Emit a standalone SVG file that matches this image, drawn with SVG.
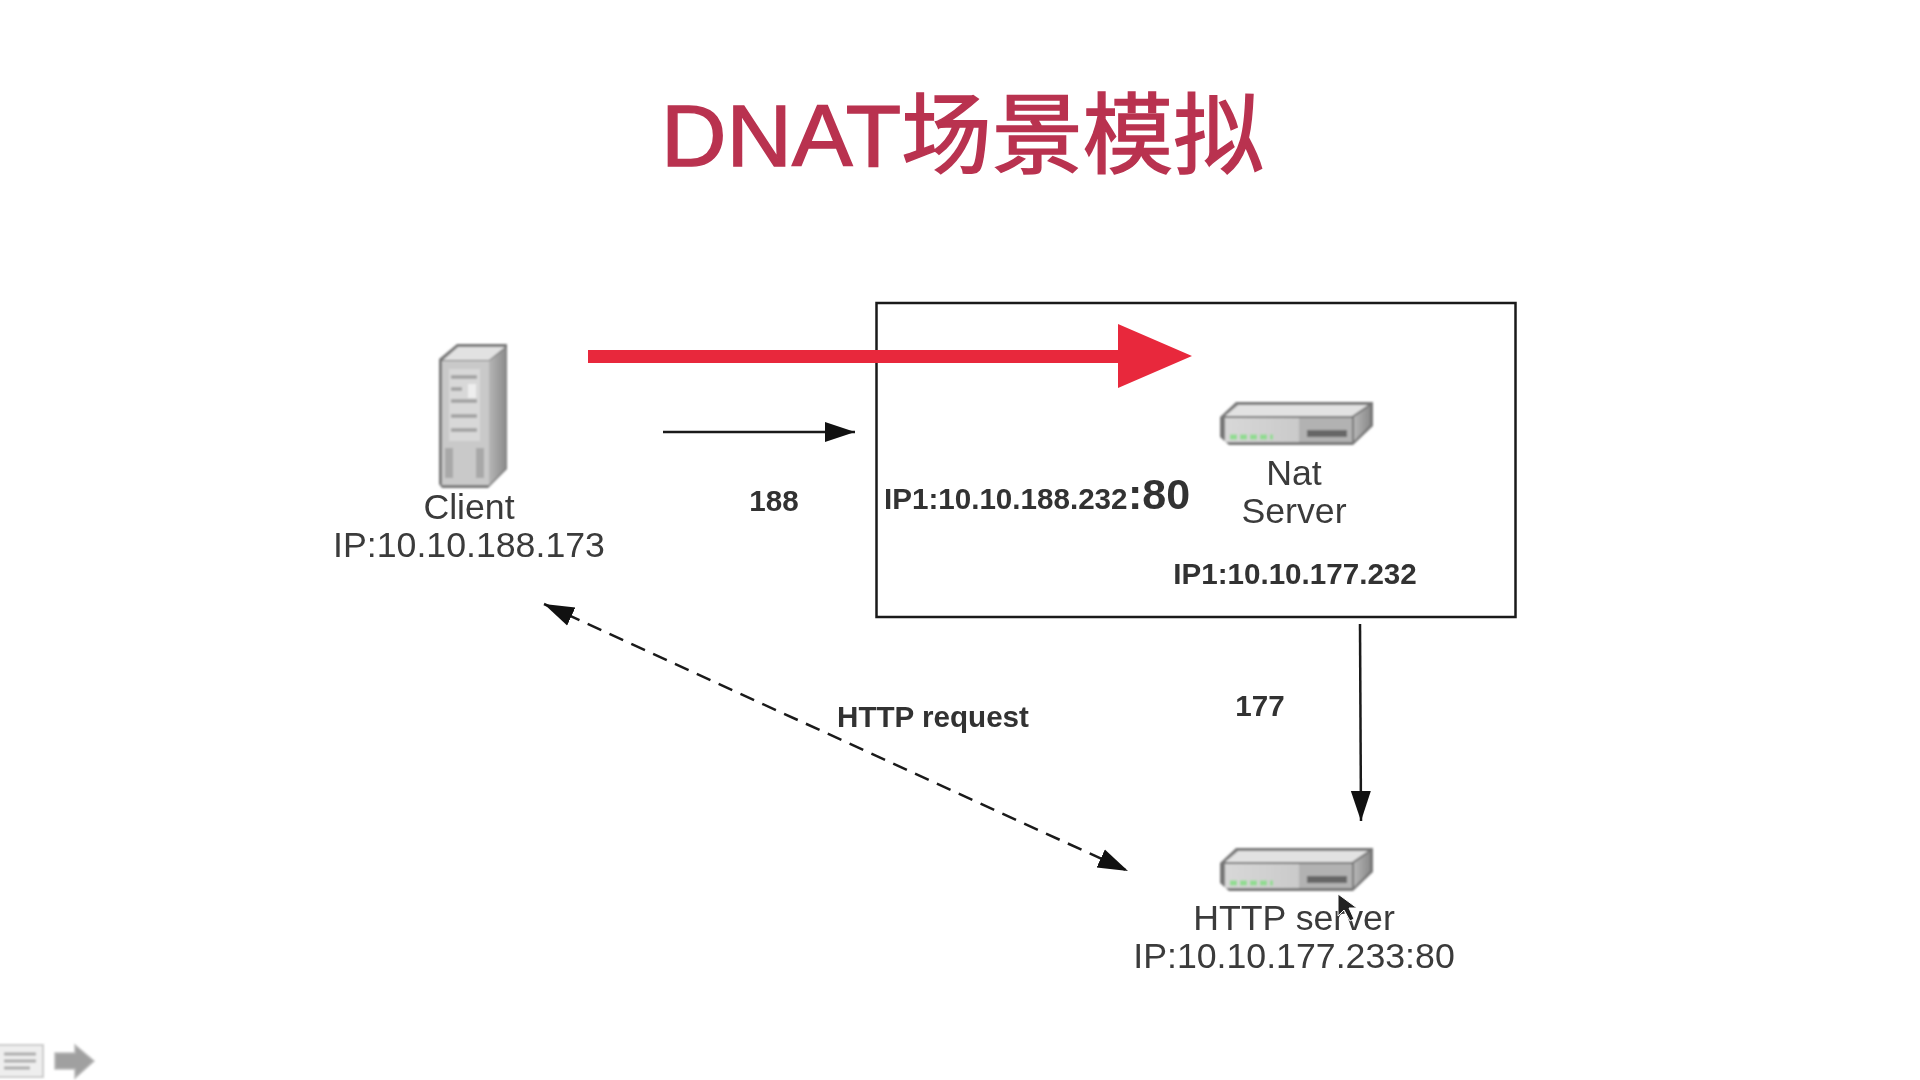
<svg xmlns="http://www.w3.org/2000/svg" width="1920" height="1080" viewBox="0 0 1920 1080">
<style>
text{font-family:"Liberation Sans",Arial,sans-serif;fill:#333}
.n{font-size:35.700px;text-anchor:middle;fill:#3a3a3a}
.b{font-size:29.600px;font-weight:bold;fill:#333;text-anchor:middle}
.c{fill:none;stroke:#1a1a1a;stroke-width:2.500}
</style>
<defs>
<marker id="a" markerUnits="userSpaceOnUse" markerWidth="32" markerHeight="22" refX="30" refY="11" orient="auto-start-reverse"><path d="M0 1L30 11L0 21Z" fill="#111"/></marker>
<linearGradient id="f" x1="0" x2="1"><stop offset="0" stop-color="#d8d8d8"/><stop offset="1" stop-color="#c0c0c0"/></linearGradient>
<linearGradient id="s" x1="0" x2="1" y1="0" y2="0"><stop offset="0" stop-color="#b5b5b5"/><stop offset="1" stop-color="#8c8c8c"/></linearGradient>
<filter id="bl"><feGaussianBlur stdDeviation="0.900"/></filter>
<filter id="tb"><feGaussianBlur stdDeviation="0.600"/></filter>
<g id="sw" filter="url(#bl)">
<path d="M1 16L17 1H154V25L134 44H10L1 36Z" fill="#777"/>
<path d="M6 15L19 4H149L133 15Z" fill="#e2e2e2"/>
<path d="M135 16L151 5V24L135 40Z" fill="url(#s)"/>
<rect x="6" y="17" width="127" height="24" fill="url(#f)"/>
<rect x="80" y="17" width="53" height="24" fill="#b2b2b2"/>
<rect x="88" y="29" width="40" height="7" fill="#666"/>
<path d="M11 36H54" stroke="#8fdc8f" stroke-width="5" stroke-dasharray="7 3"/>
</g>
</defs>
<rect width="1920" height="1080" fill="#fff"/>
<text x="661" y="166" font-size="88" stroke="#b93350" stroke-width="1.500" filter="url(#tb)" style="font-family:'Liberation Sans','Noto Sans CJK SC',sans-serif;fill:#b93350" textLength="603" lengthAdjust="spacingAndGlyphs">DNAT场景模拟</text>
<g id="nat-box"><rect x="876.500" y="303" width="639" height="314" fill="none" stroke="#1a1a1a" stroke-width="2.500"/></g>
<g id="connectors">
<path d="M588 356.500H1118" stroke="#e8283c" stroke-width="13" fill="none"/>
<path d="M1118 324L1192 356L1118 388Z" fill="#e8283c"/>
<path class="c" d="M663 432H855" marker-end="url(#a)"/>
<path class="c" d="M1360 624L1361 821" marker-end="url(#a)"/>
<path class="c" d="M544 604L1128 871" stroke-dasharray="15 9" marker-start="url(#a)" marker-end="url(#a)"/>
</g>
<g id="client">
<g filter="url(#bl)">
<path d="M439 359L457 344H507V469L488 488H442L439 484Z" fill="#777"/>
<path d="M443 360L458 347H505L489 360Z" fill="#e2e2e2"/>
<path d="M489 361L506 348V468L489 485Z" fill="url(#s)"/>
<rect x="442" y="361" width="47" height="124" fill="#c9c9c9"/>
<rect x="449" y="369" width="31" height="72" fill="#d8d8d8"/>
<path d="M451 377H477M451 389H462M451 401H477M451 416H477M451 430H477" stroke="#a0a0a0" stroke-width="3.500"/>
<path d="M468 384H476V398H468Z" fill="#eee"/>
<path d="M449 448V478M480 448V478" stroke="#a8a8a8" stroke-width="8"/>
</g>
<text class="n" x="469" y="519" filter="url(#tb)">Client</text>
<text class="n" x="469" y="557" filter="url(#tb)">IP:10.10.188.173</text>
</g>
<g id="nat-server">
<use href="#sw" x="1219" y="401"/>
<text class="n" x="1294" y="485" filter="url(#tb)">Nat</text>
<text class="n" x="1294" y="523" filter="url(#tb)">Server</text>
</g>
<g id="http-server">
<use href="#sw" x="1219" y="847"/>
<text class="n" x="1294" y="930" filter="url(#tb)">HTTP server</text>
<text class="n" x="1294" y="968" filter="url(#tb)">IP:10.10.177.233:80</text>
</g>
<g id="labels" filter="url(#tb)">
<text class="b" x="774" y="511">188</text>
<text x="884" y="509" font-size="29.600" font-weight="bold">IP1:10.10.188.232</text>
<text x="1128" y="509" font-size="43" font-weight="bold">:80</text>
<text class="b" x="1295" y="584">IP1:10.10.177.232</text>
<text class="b" x="1260" y="716">177</text>
<text class="b" x="933" y="727">HTTP request</text>
</g>
<path id="cursor" d="M1338 894V916L1344 910L1350 921L1354 919L1349 908L1357 908Z" fill="#222" stroke="#fff" stroke-width="1"/>
<g id="toolbar" filter="url(#bl)">
<rect x="-6" y="1045" width="49" height="32" fill="#eee" stroke="#ccc" stroke-width="2"/>
<path d="M4 1054H36M4 1061H36M4 1068H30" stroke="#aaa" stroke-width="3"/>
<path d="M55 1053H75V1045L94 1061L75 1078V1069H55Z" fill="#a0a0a0" stroke="#bbb" stroke-width="1.500"/>
</g>
</svg>
